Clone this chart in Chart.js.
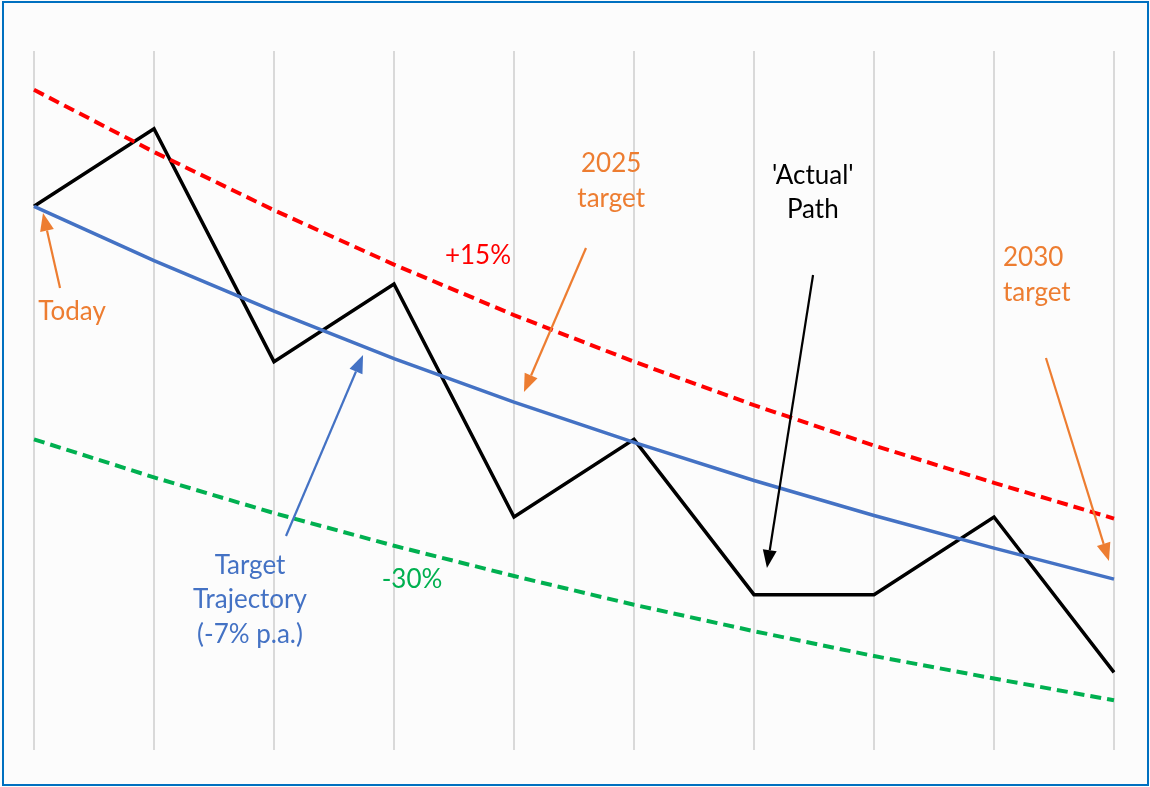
<!DOCTYPE html>
<html lang="en">
<head>
  <meta charset="UTF-8">
  <title>Target trajectory</title>
  <style>
    html, body { margin: 0; padding: 0; background: #fcfcfc; }
    #wrap { position: relative; width: 1150px; height: 787px; }
    #frame {
      position: absolute; left: 2px; top: 1px; width: 1147px; height: 785px;
      box-sizing: border-box; border: 2px solid #0070c0; pointer-events: none;
    }
    #grafico { position: absolute; left: 0; top: 0; }
  </style>
</head>
<body>
  <div id="wrap">
    <canvas id="grafico" width="1150" height="787"></canvas>
    <div id="frame"></div>
  </div>

  <script src="https://cdn.jsdelivr.net/npm/chart.js"></script>
  <script>
    // years, today = 2021
    const years = ["2021","2022","2023","2024","2025","2026","2027","2028","2029","2030"];
    const actualPath = [100, 110, 80, 90, 60, 70, 50, 50, 60, 40];
    const targetPath = [100, 93, 86.5, 80.4, 74.8, 69.6, 64.7, 60.2, 56, 52];
    const upperBand  = [115, 107, 99.5, 92.5, 86, 80, 74.4, 69.2, 64.4, 59.8];
    const lowerBand  = [70, 65.1, 60.5, 56.3, 52.4, 48.7, 45.3, 42.1, 39.2, 36.4];

    // notes and arrows placed in data units (x = year index, y = value)
    const notes = [
      { lines: ["Today"], x: 0.317, y: 86.4, color: "#ed7d31" },
      { lines: ["+15%"], x: 3.7, y: 93.6, color: "#ff0000" },
      { lines: ["2025", "target"], x: 4.81, y: 105.45, color: "#ed7d31" },
      { lines: ["'Actual'", "Path"], x: 6.49, y: 104.0, color: "#000000" },
      { lines: ["2030", "target"], x: 8.075, y: 93.35, color: "#ed7d31", align: "left" },
      { lines: ["Target", "Trajectory", "(-7% p.a.)"], x: 1.8, y: 53.8, color: "#4472c4" },
      { lines: ["-30%"], x: 3.15, y: 51.9, color: "#00b050" }
    ];
    const arrows = [
      { from: [0.217, 89.48], to: [0.075, 99.14], color: "#ed7d31" },
      { from: [2.1, 57.55], to: [2.742, 80.86], color: "#4472c4" },
      { from: [4.6, 94.63], to: [4.083, 76.09], color: "#ed7d31" },
      { from: [6.492, 91.16], to: [6.108, 53.43], color: "#000000" },
      { from: [8.433, 80.47], to: [8.958, 54.33], color: "#ed7d31" }
    ];

    const notesPlugin = {
      id: "notes",
      afterDatasetsDraw(chart) {
        const ctx = chart.ctx;
        const xs = chart.scales.x, ys = chart.scales.y;
        ctx.save();
        arrows.forEach(a => {
          const x1 = xs.getPixelForValue(a.from[0]), y1 = ys.getPixelForValue(a.from[1]);
          const x2 = xs.getPixelForValue(a.to[0]), y2 = ys.getPixelForValue(a.to[1]);
          const ang = Math.atan2(y2 - y1, x2 - x1);
          const len = 18, half = 7;
          const bx = x2 - len * Math.cos(ang), by = y2 - len * Math.sin(ang);
          ctx.strokeStyle = a.color;
          ctx.fillStyle = a.color;
          ctx.lineWidth = 2.2;
          ctx.beginPath();
          ctx.moveTo(x1, y1);
          ctx.lineTo(bx, by);
          ctx.stroke();
          ctx.beginPath();
          ctx.moveTo(x2, y2);
          ctx.lineTo(bx + half * Math.sin(ang), by - half * Math.cos(ang));
          ctx.lineTo(bx - half * Math.sin(ang), by + half * Math.cos(ang));
          ctx.closePath();
          ctx.fill();
        });
        ctx.font = "26px Lato, 'Open Sans', sans-serif";
        ctx.textBaseline = "middle";
        notes.forEach(n => {
          const px = xs.getPixelForValue(n.x), py = ys.getPixelForValue(n.y);
          ctx.fillStyle = n.color;
          ctx.textAlign = n.align || "center";
          n.lines.forEach((t, i) => ctx.fillText(t, px, py + i * 34.5));
        });
        ctx.restore();
      }
    };

    const lienzo = document.getElementById("grafico");
    new Chart(lienzo, {
      type: "line",
      data: {
        labels: years,
        datasets: [
          { label: "+15%", data: upperBand, borderColor: "#ff0000", borderWidth: 4, borderDash: [11, 6] },
          { label: "-30%", data: lowerBand, borderColor: "#00b050", borderWidth: 4, borderDash: [11, 6] },
          { label: "Target", data: targetPath, borderColor: "#4472c4", borderWidth: 3.5 },
          { label: "Actual", data: actualPath, borderColor: "#000000", borderWidth: 3.5 }
        ]
      },
      options: {
        responsive: false,
        animation: false,
        devicePixelRatio: 1,
        layout: { padding: { left: 34, right: 36, top: 51, bottom: 37 } },
        elements: { point: { radius: 0 }, line: { tension: 0, borderCapStyle: "butt" } },
        plugins: { legend: { display: false }, tooltip: { enabled: false } },
        scales: {
          x: {
            grid: { color: "#d9d9d9", lineWidth: 2, drawTicks: false },
            border: { display: false },
            ticks: { display: false }
          },
          y: { display: false, min: 30, max: 120 }
        }
      },
      plugins: [notesPlugin]
    });
  </script>
</body>
</html>
